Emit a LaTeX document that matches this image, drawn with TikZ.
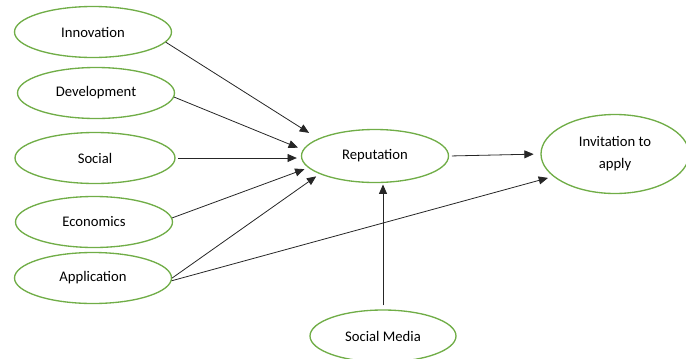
\documentclass[tikz,border=0pt]{standalone}
\usepackage{fontspec}
\setmainfont{Carlito}
\usetikzlibrary{shapes.geometric,arrows.meta}

\begin{document}
\begin{tikzpicture}[x=0.75pt,y=-0.75pt,
    var/.style={ellipse, draw=vgreen, line width=1pt, inner sep=0pt,
      minimum width=117.75pt, minimum height=38.25pt, font=\fontsize{11pt}{16.5pt}\selectfont},
    arr/.style={-{Triangle[length=7pt,width=6pt]}, line width=0.6pt, draw=black!85,
      shorten >=3pt}]
      \definecolor{vgreen}{RGB}{112,173,71}
      \clip (0,0) rectangle (686,358);
      % 左边的五个变量
      \node[var] (innov) at (93,32) {Innovation};
      \node[var] (devel) at (96,93) {Development};
      \node[var, minimum width=120pt] (social) at (95,158) {Social};
      \node[var] (econ) at (94,222) {Economics};
      \node[var] (appl) at (93,278) {Application};
      % 中间和右边
      \node[var, minimum width=110.25pt, minimum height=39.75pt] (rep) at (375,156) {Reputation};
      \node[var, minimum width=111pt, minimum height=59.25pt, align=center]
        (invit) at (615,154) {Invitation to\\apply};
      \node[var, minimum width=109.5pt, minimum height=39pt] (smedia) at (383,336) {Social Media};
      % 箭头
      \draw[arr, shorten >=8pt] (innov.-8) -- (rep.163);
      \draw[arr, shorten >=4pt] (devel.-3) -- (rep.175);
      \draw[arr] ([xshift=2pt]social.east) -- (social.east -| rep.west);
      \draw[arr] (econ.3) -- (rep.190);
      \draw[arr] (appl.east) -- (rep.198);
      \draw[arr, shorten >=4pt] (appl.-2) -- (invit.200);
      \draw[arr, shorten >=1pt] ([yshift=3pt]smedia.north) -- (smedia.north |- rep.south);
      \draw[arr, shorten <=2pt, shorten >=5pt] (rep.east) -- (invit.west);
\end{tikzpicture}
\end{document}
